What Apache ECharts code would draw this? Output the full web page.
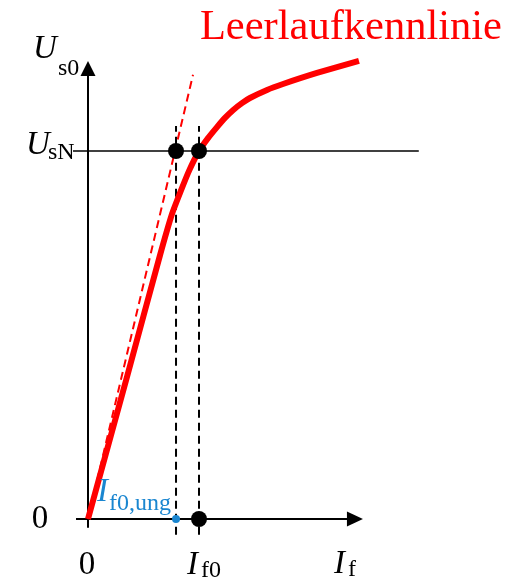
<!DOCTYPE html>
<html>
<head>
<meta charset="utf-8">
<script src="https://cdn.jsdelivr.net/npm/echarts@6/dist/echarts.min.js"></script>
<style>html,body{margin:0;padding:0;background:#fff}#c{width:519px;height:583px}</style>
</head>
<body>
<div id="c"></div>
<script>
// Open-circuit characteristic (Leerlaufkennlinie), normalised: I_f / I_f0, U_s0 / U_sN
const fieldCurrent = [0, 0.351, 0.649, 0.757, 0.829, 0.910, 1.0, 1.081, 1.162, 1.234, 1.306, 1.387, 1.459, 1.613, 1.757, 2.063, 2.441];
const statorVoltage = [0, 0.386, 0.717, 0.829, 0.886, 0.946, 1.0, 1.035, 1.065, 1.090, 1.111, 1.130, 1.144, 1.166, 1.182, 1.212, 1.245];
// air-gap (tangent) line
const tangentCurrent = [0, 0.946];
const tangentVoltage = [0, 1.207];
// operating points
const I_f0 = 1.0;
const I_f0_ung = 0.793;
const U_sN = 1.0;
// axis extents
const xAxisRange = [-0.108, 2.405];
const yAxisRange = [-0.024, 1.224];
const ratedLineRange = [-0.135, 2.98];
const dashedRange = [-0.043, 1.068];
// tick labels
const xTickValues = [0, I_f0, 2.28];
const xTickLabels = [['0', ''], ['I', 'f0'], ['I', 'f']];
const yTickValues = [0, U_sN, 1.245];
const yTickLabels = [['0', ''], ['U', 'sN'], ['U', 's0']];
const curveLabel = 'Leerlaufkennlinie';
const ungLabel = ['I', 'f0,ung'];

const FONT = "'Liberation Serif','Times New Roman',serif";
const RED = '#ff0000', BLUE = '#1a86d0', BLACK = '#000000';

const chart = echarts.init(document.getElementById('c'), null, {renderer: 'canvas'});
const zip = (a, b) => a.map((v, i) => [v, b[i]]);
const base = {type: 'line', symbol: 'none', silent: true, animation: false, clip: false};
const dot = {type: 'scatter', silent: true, animation: false, clip: false};

chart.setOption({
  animation: false,
  grid: {left: 65.8, right: 98, top: 40.6, bottom: 27.2},
  xAxis: {type: 'value', min: -0.2, max: 3.0, show: false},
  yAxis: {type: 'value', min: -0.1, max: 1.3, show: false},
  series: [
    Object.assign({}, base, {z: 1, data: [[xAxisRange[0], 0], [xAxisRange[1], 0]], lineStyle: {color: BLACK, width: 2}}),
    Object.assign({}, base, {z: 1, data: [[0, yAxisRange[0]], [0, yAxisRange[1]]], lineStyle: {color: BLACK, width: 2}}),
    Object.assign({}, base, {z: 1, data: [[ratedLineRange[0], U_sN], [ratedLineRange[1], U_sN]], lineStyle: {color: BLACK, width: 1.6}}),
    Object.assign({}, base, {z: 1, data: [[I_f0_ung, dashedRange[0]], [I_f0_ung, dashedRange[1]]], lineStyle: {color: BLACK, width: 2, type: [8, 5]}}),
    Object.assign({}, base, {z: 1, data: [[I_f0, dashedRange[0]], [I_f0, dashedRange[1]]], lineStyle: {color: BLACK, width: 2, type: [8, 5]}}),
    Object.assign({}, base, {z: 2, data: zip(tangentCurrent, tangentVoltage), lineStyle: {color: RED, width: 2, type: [8, 5]}}),
    Object.assign({}, base, {z: 3, data: zip(fieldCurrent, statorVoltage), smooth: 0.2, lineStyle: {color: RED, width: 6, cap: 'butt', join: 'round'}}),
    Object.assign({}, dot, {z: 4, symbol: 'triangle', itemStyle: {color: BLACK, opacity: 1},
      data: [
        {value: [0, yAxisRange[1]], symbolSize: [15, 15], symbolRotate: 0},
        {value: [xAxisRange[1], 0], symbolSize: [15, 16], symbolRotate: -90}
      ]}),
    Object.assign({}, dot, {z: 5, symbol: 'circle', symbolSize: 16, itemStyle: {color: BLACK, opacity: 1},
      data: [[I_f0_ung, U_sN], [I_f0, U_sN], [I_f0, 0]]}),
    Object.assign({}, dot, {z: 5, symbol: 'circle', symbolSize: 8, itemStyle: {color: BLUE, opacity: 1},
      data: [[I_f0_ung, 0]]})
  ]
});

// ---- text labels ----
const px = (x, y) => chart.convertToPixel({gridIndex: 0}, [x, y]);
const g = [];
function txt(x, y, text, size, italic, color, align) {
  g.push({type: 'text', x: x, y: y, silent: true, z: 10,
    style: {text: text, fontFamily: FONT, fontSize: size, fontStyle: italic ? 'italic' : 'normal',
      fill: color, align: align || 'left', verticalAlign: 'middle'}});
}
const MAIN = 33, SUB = 24;
// y tick labels
{
  let p = px(0, yTickValues[0]);
  txt(p[0] - 48, p[1], yTickLabels[0][0], MAIN, false, BLACK, 'center');
  p = px(0, yTickValues[1]);
  txt(p[0] - 62, p[1] - 6, yTickLabels[1][0], MAIN, true, BLACK, 'left');
  txt(p[0] - 40, p[1] + 2, yTickLabels[1][1], SUB, false, BLACK, 'left');
  p = px(0, yTickValues[2]);
  txt(p[0] - 55, p[1] - 12, yTickLabels[2][0], MAIN, true, BLACK, 'left');
  txt(p[0] - 30, p[1] + 8, yTickLabels[2][1], SUB, false, BLACK, 'left');
}
// x tick labels
{
  let p = px(xTickValues[0], 0);
  txt(p[0] - 1, p[1] + 46, xTickLabels[0][0], MAIN, false, BLACK, 'center');
  p = px(xTickValues[1], 0);
  txt(p[0] - 12, p[1] + 46, xTickLabels[1][0], MAIN, true, BLACK, 'left');
  txt(p[0] + 2, p[1] + 52, xTickLabels[1][1], SUB, false, BLACK, 'left');
  p = px(xTickValues[2], 0);
  txt(p[0] - 7, p[1] + 45, xTickLabels[2][0], MAIN, true, BLACK, 'left');
  txt(p[0] + 7, p[1] + 51, xTickLabels[2][1], SUB, false, BLACK, 'left');
}
// I_f0,ung label
{
  const p = px(0, 0);
  txt(p[0] + 9, p[1] - 27, ungLabel[0], MAIN, true, BLUE, 'left');
  txt(p[0] + 21, p[1] - 15, ungLabel[1], SUB, false, BLUE, 'left');
}
// curve name
{
  const p = px(fieldCurrent[fieldCurrent.length - 1], statorVoltage[statorVoltage.length - 1]);
  txt(p[0] + 143, p[1] - 33, curveLabel, 42.5, false, RED, 'right');
}
chart.setOption({graphic: {elements: g}});
</script>
</body>
</html>
